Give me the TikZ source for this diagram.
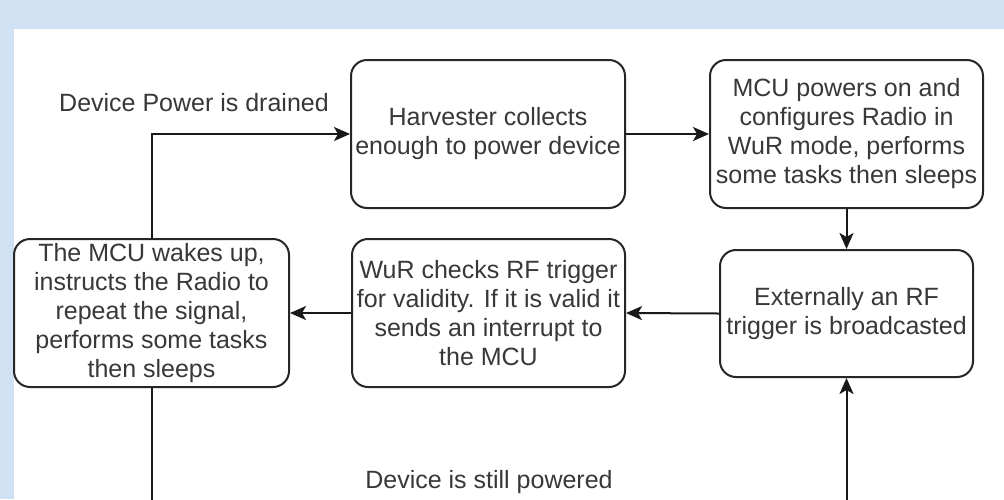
\documentclass[tikz,border=0pt]{standalone}
\usepackage{fontspec}
\setmainfont{Liberation Sans}
\usetikzlibrary{arrows.meta}
\definecolor{bgblue}{HTML}{CFE1F2}
\definecolor{txt}{HTML}{383838}
\tikzset{
  box/.style={draw=black!85, line width=1pt, rounded corners=8pt, fill=white,
    align=center, inner sep=0pt, text=txt, font=\fontsize{12.5}{14.5}\selectfont},
  conn/.style={draw=black!90, line width=1pt, -{Stealth[length=8pt,width=7pt,inset=2pt]}},
  lbl/.style={text=txt, font=\fontsize{12.5}{14.5}\selectfont, inner sep=0pt}
}
\begin{document}
\begin{tikzpicture}[x=0.5pt,y=-0.5pt]
\useasboundingbox (0,0) rectangle (1004,499);
\fill[bgblue] (0,0) rectangle (1004,499);
\fill[white] (14,29) rectangle (1004,499);

\node[box, minimum width=137pt, minimum height=74pt] (H) at (488,134)
  {Harvester collects\\enough to power device};
\node[box, minimum width=136.5pt, minimum height=74pt] (M) at (846.5,134)
  {MCU powers on and\\configures Radio in\\WuR mode, performs\\some tasks then sleeps};
\node[box, minimum width=137.5pt, minimum height=74pt] (W) at (151.5,313)
  {The MCU wakes up,\\instructs the Radio to\\repeat the signal,\\performs some tasks\\then sleeps};
\node[box, minimum width=136.5pt, minimum height=74pt] (V) at (488.5,313)
  {WuR checks RF trigger\\for validity. If it is valid it\\sends an interrupt to\\the MCU};
\node[box, minimum width=126.5pt, minimum height=63.5pt] (E) at (846.5,313.5)
  {Externally an RF\\trigger is broadcasted};

\node[lbl] (L1) at (194,103) {Device Power is drained};
\node[lbl] (L2) at (489,482) {Device is still powered};

\coordinate (B1) at (151.5,502);
\coordinate (B2) at (846.5,502);

\draw[conn] (W.north) |- (H.west);
\draw[conn] (H.east) -- (M.west);
\draw[conn] (M.south) -- (E.north);
\draw[conn] (E.west) -- (V.east);
\draw[conn] (V.west) -- (W.east);
\draw[draw=black!90, line width=1pt] (W.south) -- (B1);
\draw[conn] (B2) -- (E.south);
\end{tikzpicture}
\end{document}
